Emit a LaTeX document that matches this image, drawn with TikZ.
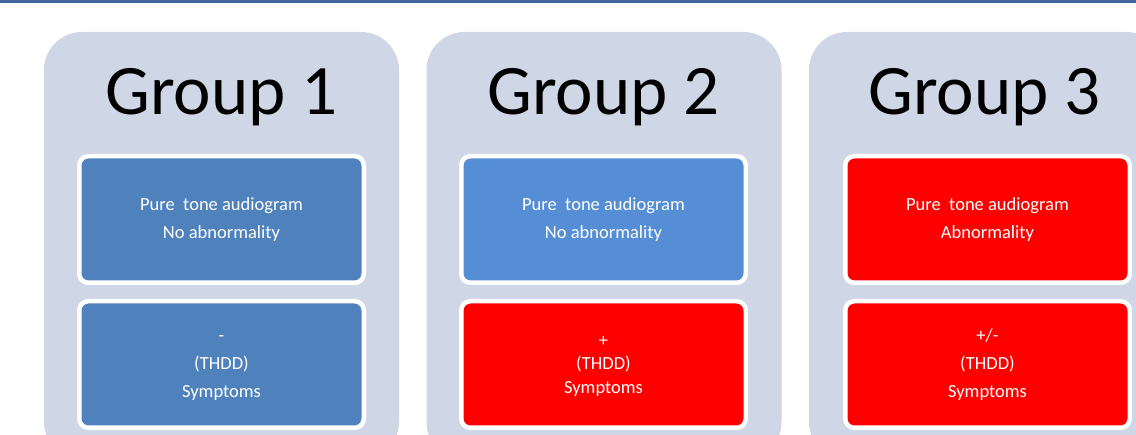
\documentclass[tikz,border=0pt]{standalone}
\usepackage{fontspec}
\setmainfont{Carlito}
\definecolor{panelbg}{HTML}{CFD6E6}
\definecolor{topline}{HTML}{41689C}
\definecolor{blueA}{HTML}{4F81BD}
\definecolor{blueB}{HTML}{558ED5}
\definecolor{redA}{HTML}{FF0000}
\tikzset{
  panel/.style={fill=panelbg, draw=none, rounded corners=38pt, minimum width=355pt, minimum height=428pt, inner sep=0pt},
  title/.style={anchor=base, inner sep=0pt, font=\fontsize{71}{80}\selectfont, text=black},
  card/.style={draw=white, line width=4.5pt, rounded corners=9pt, minimum width=284.5pt, minimum height=126.5pt, inner sep=0pt, text=white, align=center, font=\fontsize{18.5}{28}\selectfont},
  cardtight/.style={card, font=\fontsize{18.5}{23.5}\selectfont}
}
\begin{document}
\begin{tikzpicture}[x=1pt,y=1pt]
\useasboundingbox (0,0) rectangle (1136,-435);
\clip (0,0) rectangle (1136,-435);
\fill[topline] (0,0) rectangle (1136,-3);
% panels
\node[panel] (p1) at (221.5,-246) {};
\node[panel] (p2) at (604,-246) {};
\node[panel] (p3) at (986.5,-246) {};
% titles
\node[title] (t1) at (221.5,-115) {Group 1};
\node[title] (t2) at (603.5,-115) {Group 2};
\node[title] (t3) at (984.5,-115) {Group 3};
% top cards
\node[card, fill=blueA] (a1) at (221.5,-219.5) {Pure\ \ tone audiogram\\No abnormality};
\node[card, fill=blueB] (a2) at (603.5,-219.5) {Pure\ \ tone audiogram\\No abnormality};
\node[card, fill=redA] (a3) at (987.5,-219.5) {Pure\ \ tone audiogram\\Abnormality};
% bottom cards
\node[card, fill=blueA] (b1) at (221.5,-364.5) {\vphantom{(}-\\(THDD)\\Symptoms};
\node[cardtight, fill=redA] (b2) at (603.5,-364.5) {\vphantom{(}+\\(THDD)\\Symptoms};
\node[card, fill=redA] (b3) at (987.5,-364.5) {+/-\\(THDD)\\Symptoms};
\end{tikzpicture}
\end{document}
